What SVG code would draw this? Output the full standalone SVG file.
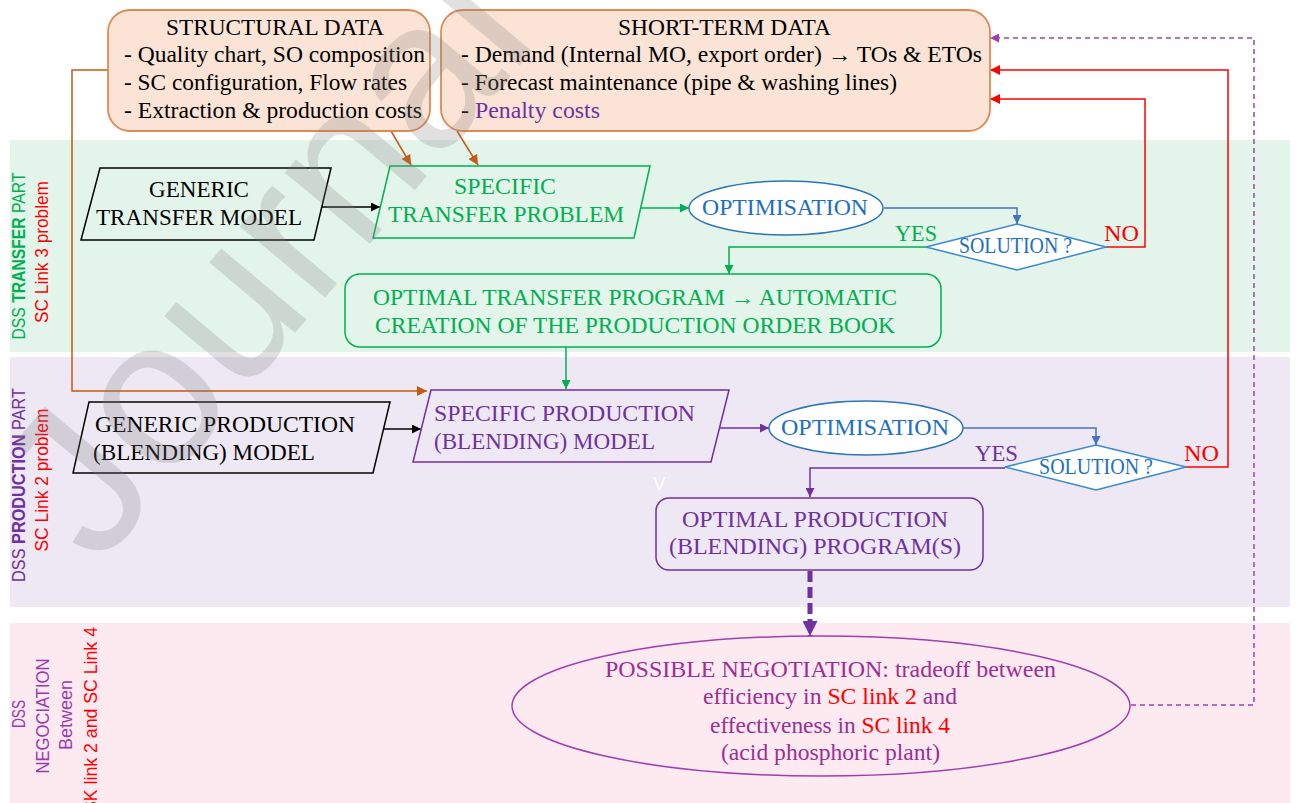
<svg xmlns="http://www.w3.org/2000/svg" width="1296" height="803" viewBox="0 0 1296 803">
<style>
.serif{font-family:"Liberation Serif","Times New Roman",serif;font-size:23px}
.sans{font-family:"Liberation Sans",Arial,sans-serif;font-size:19px}
.blk{fill:#000}
.grn{fill:#00b050}
.pur{fill:#7030a0}
.blu{fill:#1f6fbf}
.red{fill:#ff0000}
.mag{fill:#9b2f95}
.ln{fill:none;stroke-width:1.5}
</style>
<defs>
<marker id="aBlack" viewBox="0 0 10 10" refX="10" refY="5" markerWidth="9" markerHeight="9" markerUnits="userSpaceOnUse" orient="auto"><path d="M0,0 L10,5 L0,10 z" fill="#000"/></marker>
<marker id="aOrange" viewBox="0 0 10 10" refX="10" refY="5" markerWidth="10" markerHeight="10" markerUnits="userSpaceOnUse" orient="auto"><path d="M0,0 L10,5 L0,10 z" fill="#c55a11"/></marker>
<marker id="aGreen" viewBox="0 0 10 10" refX="10" refY="5" markerWidth="9" markerHeight="9" markerUnits="userSpaceOnUse" orient="auto"><path d="M0,0 L10,5 L0,10 z" fill="#00b050"/></marker>
<marker id="aPurple" viewBox="0 0 10 10" refX="10" refY="5" markerWidth="9" markerHeight="9" markerUnits="userSpaceOnUse" orient="auto"><path d="M0,0 L10,5 L0,10 z" fill="#7030a0"/></marker>
<marker id="aBlue" viewBox="0 0 10 10" refX="10" refY="5" markerWidth="9" markerHeight="9" markerUnits="userSpaceOnUse" orient="auto"><path d="M0,0 L10,5 L0,10 z" fill="#4472c4"/></marker>
<marker id="aRed" viewBox="0 0 10 10" refX="10" refY="5" markerWidth="10" markerHeight="10" markerUnits="userSpaceOnUse" orient="auto"><path d="M0,0 L10,5 L0,10 z" fill="#ff0000"/></marker>
<marker id="aMag" viewBox="0 0 10 10" refX="10" refY="5" markerWidth="9" markerHeight="9" markerUnits="userSpaceOnUse" orient="auto"><path d="M0,0 L10,5 L0,10 z" fill="#a040b0"/></marker>
<marker id="aThick" viewBox="0 0 10 10" refX="10" refY="5" markerWidth="15" markerHeight="15" markerUnits="userSpaceOnUse" orient="auto"><path d="M0,0 L10,5 L0,10 z" fill="#7030a0"/></marker>
</defs>

<rect width="1296" height="803" fill="#ffffff"/>

<g id="bands">
<rect x="10" y="140" width="1280" height="212" fill="#e3f4ea"/>
<rect x="10" y="357" width="1280" height="250" fill="#ede8f3"/>
<rect x="10" y="623" width="1280" height="180" fill="#fde9f0"/>
</g>

<g id="band-labels" class="sans">
<text transform="translate(25,256) rotate(-90)" text-anchor="middle" textLength="167" lengthAdjust="spacingAndGlyphs" class="grn">DSS <tspan font-weight="bold">TRANSFER</tspan> PART</text>
<text transform="translate(48,252) rotate(-90)" text-anchor="middle" textLength="142" lengthAdjust="spacingAndGlyphs" class="red">SC Link 3 problem</text>
<text transform="translate(25,485) rotate(-90)" text-anchor="middle" textLength="194" lengthAdjust="spacingAndGlyphs" class="pur">DSS <tspan font-weight="bold">PRODUCTION</tspan> PART</text>
<text transform="translate(48,480) rotate(-90)" text-anchor="middle" textLength="143" lengthAdjust="spacingAndGlyphs" class="red">SC Link 2 problem</text>
<text transform="translate(25,714) rotate(-90)" text-anchor="middle" textLength="28" lengthAdjust="spacingAndGlyphs" fill="#9b3ab0">DSS</text>
<text transform="translate(49,716) rotate(-90)" text-anchor="middle" textLength="115" lengthAdjust="spacingAndGlyphs" fill="#9b3ab0">NEGOCIATION</text>
<text transform="translate(72,715) rotate(-90)" text-anchor="middle" textLength="70" lengthAdjust="spacingAndGlyphs" fill="#9b3ab0">Between</text>
<text transform="translate(97,627) rotate(-90)" text-anchor="end" textLength="186" lengthAdjust="spacingAndGlyphs" class="red">SK link 2 and SC Link 4</text>
</g>

<g id="connectors" class="ln">
<path d="M108,70 H72 V391 H427" stroke="#c55a11" marker-end="url(#aOrange)"/>
<path d="M391,131 L411,165" stroke="#c55a11" marker-end="url(#aOrange)"/>
<path d="M457,131 L478,165" stroke="#c55a11" marker-end="url(#aOrange)"/>
<path d="M321,207 H380" stroke="#000" marker-end="url(#aBlack)"/>
<path d="M641,208 H689" stroke="#00b050" marker-end="url(#aGreen)"/>
<path d="M884,208 H1017 V224" stroke="#4472c4" marker-end="url(#aBlue)"/>
<path d="M926,247 H729 V274" stroke="#00b050" marker-end="url(#aGreen)"/>
<path d="M1106,247 H1145 V99 H990" stroke="#ff0000" marker-end="url(#aRed)"/>
<path d="M566,347 V389" stroke="#00b050" marker-end="url(#aGreen)"/>
<path d="M384,429 H421" stroke="#000" marker-end="url(#aBlack)"/>
<path d="M720,428 H769" stroke="#7030a0" marker-end="url(#aPurple)"/>
<path d="M963,428 H1096 V445" stroke="#4472c4" marker-end="url(#aBlue)"/>
<path d="M1005,468 H810 V497" stroke="#7030a0" marker-end="url(#aPurple)"/>
<path d="M1186,467 H1228 V70 H990" stroke="#ff0000" marker-end="url(#aRed)"/>
<path d="M810,571 V636" stroke="#7030a0" stroke-width="5" stroke-dasharray="11,5" marker-end="url(#aThick)"/>
<path d="M1122,705 H1254 V38 H990" stroke="#a040b0" stroke-dasharray="5,4" marker-end="url(#aMag)"/>
</g>

<g id="structural-data">
<rect x="108" y="10" width="322" height="121" rx="22" fill="#fbe4d5" stroke="#dd8a55" stroke-width="1.8"/>
<text class="serif blk" x="166" y="35" textLength="218" lengthAdjust="spacingAndGlyphs">STRUCTURAL DATA</text>
<text class="serif blk" x="124" y="62" textLength="301" lengthAdjust="spacingAndGlyphs">- Quality  chart, SO composition</text>
<text class="serif blk" x="124" y="90" textLength="283" lengthAdjust="spacingAndGlyphs">- SC configuration,  Flow rates</text>
<text class="serif blk" x="124" y="118" textLength="298" lengthAdjust="spacingAndGlyphs">- Extraction &amp; production costs</text>
</g>

<g id="short-term-data">
<rect x="441" y="10" width="549" height="121" rx="22" fill="#fbe4d5" stroke="#dd8a55" stroke-width="1.8"/>
<text class="serif blk" x="618" y="35" textLength="213" lengthAdjust="spacingAndGlyphs">SHORT-TERM DATA</text>
<text class="serif blk" x="461" y="62" textLength="521" lengthAdjust="spacingAndGlyphs">- Demand (Internal MO, export order) → TOs &amp; ETOs</text>
<text class="serif blk" x="461" y="90" textLength="436" lengthAdjust="spacingAndGlyphs">- Forecast maintenance  (pipe &amp; washing lines)</text>
<text class="serif blk" x="461" y="118" textLength="139" lengthAdjust="spacingAndGlyphs">- <tspan class="pur">Penalty costs</tspan></text>
</g>

<g id="generic-transfer-model">
<polygon points="100,168 331,168 314,240 81,240" fill="none" stroke="#000" stroke-width="1.5"/>
<text class="serif blk" x="149" y="197" textLength="100" lengthAdjust="spacingAndGlyphs">GENERIC</text>
<text class="serif blk" x="96" y="225" textLength="206" lengthAdjust="spacingAndGlyphs">TRANSFER MODEL</text>
</g>

<g id="specific-transfer-problem">
<polygon points="390,166 650,166 634,238 373,238" fill="none" stroke="#00b050" stroke-width="1.5"/>
<text class="serif grn" x="454" y="194" textLength="102" lengthAdjust="spacingAndGlyphs">SPECIFIC</text>
<text class="serif grn" x="388" y="222" textLength="236" lengthAdjust="spacingAndGlyphs">TRANSFER PROBLEM</text>
</g>

<g id="optimisation-1">
<ellipse cx="786" cy="208" rx="97" ry="27" fill="#ffffff" stroke="#2e75b6" stroke-width="1.5"/>
<text class="serif blu" x="702" y="215" textLength="166" lengthAdjust="spacingAndGlyphs">OPTIMISATION</text>
</g>

<g id="solution-1">
<polygon points="1017,224 1106,247 1017,270 926,247" fill="#ffffff" stroke="#3a8ad0" stroke-width="1.5"/>
<text class="serif blu" x="959" y="253" font-size="20" textLength="113" lengthAdjust="spacingAndGlyphs">SOLUTION ?</text>
<text class="serif grn" x="895" y="241" textLength="42" lengthAdjust="spacingAndGlyphs">YES</text>
<text class="serif red" x="1104" y="241" textLength="35" lengthAdjust="spacingAndGlyphs">NO</text>
</g>

<g id="optimal-transfer-program">
<rect x="345" y="274" width="596" height="73" rx="15" fill="none" stroke="#00b050" stroke-width="1.5"/>
<text class="serif grn" x="373" y="305" textLength="524" lengthAdjust="spacingAndGlyphs">OPTIMAL TRANSFER PROGRAM → AUTOMATIC</text>
<text class="serif grn" x="375" y="333" textLength="520" lengthAdjust="spacingAndGlyphs">CREATION OF THE PRODUCTION ORDER BOOK</text>
</g>

<g id="generic-production-model">
<polygon points="89,402 390,402 373,473 73,473" fill="none" stroke="#000" stroke-width="1.5"/>
<text class="serif blk" x="95" y="432" textLength="260" lengthAdjust="spacingAndGlyphs">GENERIC PRODUCTION</text>
<text class="serif blk" x="93" y="460" textLength="222" lengthAdjust="spacingAndGlyphs">(BLENDING)  MODEL</text>
</g>

<g id="specific-production-model">
<polygon points="431,390 729,390 711,462 413,462" fill="none" stroke="#7030a0" stroke-width="1.5"/>
<text class="serif pur" x="434" y="421" textLength="261" lengthAdjust="spacingAndGlyphs">SPECIFIC PRODUCTION</text>
<text class="serif pur" x="434" y="449" textLength="221" lengthAdjust="spacingAndGlyphs">(BLENDING)  MODEL</text>
</g>

<g id="optimisation-2">
<ellipse cx="866" cy="428" rx="97" ry="27" fill="#ffffff" stroke="#2e75b6" stroke-width="1.5"/>
<text class="serif blu" x="781" y="435" textLength="168" lengthAdjust="spacingAndGlyphs">OPTIMISATION</text>
</g>

<g id="solution-2">
<polygon points="1096,445 1186,467 1096,490 1005,467" fill="#ffffff" stroke="#3a8ad0" stroke-width="1.5"/>
<text class="serif blu" x="1039" y="474" font-size="20" textLength="114" lengthAdjust="spacingAndGlyphs">SOLUTION ?</text>
<text class="serif pur" x="975" y="461" textLength="43" lengthAdjust="spacingAndGlyphs">YES</text>
<text class="serif red" x="1184" y="461" textLength="35" lengthAdjust="spacingAndGlyphs">NO</text>
</g>

<text class="sans" x="653" y="490" font-size="15" fill="#ffffff">V</text>

<g id="optimal-production-program">
<rect x="656" y="498" width="327" height="72" rx="13" fill="none" stroke="#7030a0" stroke-width="1.5"/>
<text class="serif pur" x="682" y="527" textLength="266" lengthAdjust="spacingAndGlyphs">OPTIMAL PRODUCTION</text>
<text class="serif pur" x="669" y="554" textLength="292" lengthAdjust="spacingAndGlyphs">(BLENDING)  PROGRAM(S)</text>
</g>

<g id="possible-negotiation">
<ellipse cx="821" cy="706" rx="309" ry="70" fill="#fde9f0" stroke="#a040b0" stroke-width="1.5"/>
<text class="serif mag" x="605" y="677" textLength="451" lengthAdjust="spacingAndGlyphs">POSSIBLE NEGOTIATION: tradeoff  between</text>
<text class="serif mag" x="703" y="704" textLength="254" lengthAdjust="spacingAndGlyphs">efficiency  in  <tspan class="red">SC link  2</tspan> and</text>
<text class="serif mag" x="710" y="733" textLength="240" lengthAdjust="spacingAndGlyphs">effectiveness  in  <tspan class="red">SC link  4</tspan></text>
<text class="serif mag" x="721" y="760" textLength="219" lengthAdjust="spacingAndGlyphs">(acid phosphoric plant)</text>
</g>

<text id="watermark" transform="translate(98,568) rotate(-50)" font-family="Liberation Sans, Arial, sans-serif" font-size="210" fill="#808080" opacity="0.24">Journal</text>
</svg>
